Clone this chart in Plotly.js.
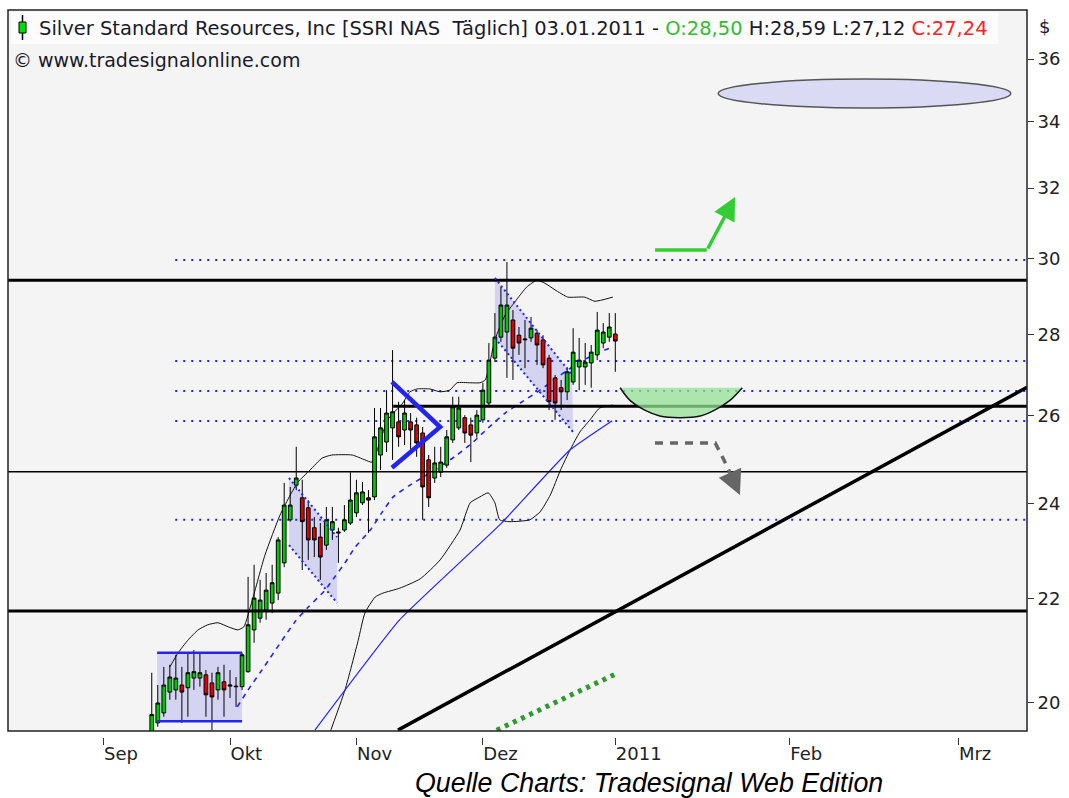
<!DOCTYPE html>
<html><head><meta charset="utf-8">
<script src="https://cdn.plot.ly/plotly-3.0.1.min.js"></script>
<style>html,body{margin:0;padding:0;background:#fff}#chart{width:1069px;height:798px}</style>
</head><body><div id="chart"></div>
<script>
// ---- candles (trading-day index, 0 = 1 Sep 2010) ----
const barIdx = [8,9,10,11,12,13,14,15,16,17,18,19,20,21,22,23,24,25,26,27,28,29,30,31,32,33,34,35,36,37,38,39,40,41,42,43,44,45,46,47,48,49,50,51,52,53,54,55,56,57,58,59,60,61,62,63,64,65,66,67,68,69,70,71,72,73,74,75,76,77,78,79,80,81,82,83,84,85];
const openP  = [19.42,19.64,19.82,20.20,20.24,20.33,20.28,20.46,20.46,20.52,20.37,20.24,20.39,20.31,20.31,20.30,20.58,21.38,21.61,21.77,21.91,22.11,22.73,23.64,24.40,24.12,23.90,23.47,23.27,23.10,23.42,23.38,23.42,23.57,23.79,24.01,24.12,24.14,25.08,25.38,25.71,25.85,25.66,25.85,25.78,25.59,24.97,24.56,24.69,24.85,25.43,25.71,25.95,25.78,25.59,25.90,26.30,27.40,27.93,28.06,28.37,27.98,27.86,27.91,28.03,27.86,27.40,26.91,26.67,26.57,26.81,27.18,27.18,27.28,27.48,27.78,27.93,28.01];
const highP  = [20.56,20.33,20.67,20.71,20.90,20.67,20.94,20.99,20.94,20.61,20.56,20.67,20.71,20.61,20.48,20.94,22.44,22.69,22.38,22.52,22.69,23.27,24.45,24.36,25.27,24.52,24.07,23.70,23.57,23.92,23.92,23.47,23.96,24.69,24.52,24.47,24.29,26.18,26.18,26.61,27.60,26.33,26.37,26.06,25.95,25.73,25.08,25.27,25.27,25.66,26.45,26.45,26.01,25.95,26.13,26.79,27.78,28.55,29.24,29.91,28.63,28.19,28.37,28.45,28.11,27.98,27.48,26.98,26.86,27.18,28.16,27.91,27.78,27.73,28.58,28.29,28.55,28.55];
const lowP   = [19.33,19.57,19.75,20.06,20.06,19.64,19.75,20.24,20.30,19.75,19.51,20.06,19.75,20.09,19.93,20.24,20.56,21.13,21.52,21.58,21.71,21.97,22.64,23.60,24.29,22.58,22.79,22.85,22.38,23.00,23.21,22.73,23.38,23.53,23.70,23.96,23.36,24.07,24.74,25.15,24.97,25.27,25.31,25.20,25.04,23.64,23.92,24.45,24.58,24.79,25.36,25.66,25.36,24.92,25.48,25.83,26.25,27.30,27.81,26.91,26.86,27.48,27.15,27.81,27.23,27.15,26.13,25.90,26.13,26.37,26.74,26.61,26.74,26.67,27.35,27.65,27.81,27.06];
const closeP = [19.79,20.00,20.33,20.48,20.46,20.20,20.56,20.58,20.56,20.15,20.11,20.56,20.24,20.33,20.30,20.90,21.48,22.01,21.97,22.17,22.32,23.21,23.96,23.96,24.56,23.60,23.21,23.21,22.85,23.64,23.60,23.36,23.64,24.07,24.23,24.25,24.07,25.50,25.71,26.06,26.09,25.50,26.06,25.66,25.36,24.36,24.12,24.90,24.92,25.50,26.21,26.18,25.59,25.54,26.01,26.61,27.35,27.93,28.76,28.76,27.65,27.78,27.88,28.16,27.73,27.23,26.33,26.30,26.57,27.06,27.55,27.35,27.30,27.55,28.11,28.06,28.19,27.83];

// ---- indicator curves ----
const upperBandX = [11.0,12.4,14.0,15.7,17.3,19.0,20.7,22.3,23.3,24.7,26.8,29.3,31.0,32.3,34.3,36.3,37.9,41.3,43.4,44.6,47.2,49.7,50.9,52.1,54.2,55.9,57.5,58.7,60.9,62.5,63.4,65.0,66.7,68.3,70.3,72.0,73.3,75.0,77.1,79.9,81.6,84.6];
const upperBandY = [20.67,20.94,21.18,21.38,21.48,21.52,21.44,21.38,21.44,21.97,22.89,23.74,24.18,24.47,24.74,25.01,25.08,25.08,24.97,24.92,25.90,26.30,26.57,26.64,26.64,26.57,26.61,26.79,26.79,26.79,26.86,27.86,28.50,28.84,29.24,29.42,29.34,29.16,28.97,28.97,28.86,28.97];
const lowerBandX = [37.2,40.1,42.3,43.4,45.1,46.4,49.2,52.6,55.9,59.2,60.9,62.5,63.9,65.0,65.8,67.5,70.8,72.5,74.2,75.9,77.5,79.1,80.8,82.4,84.6];
const lowerBandY = [19.35,20.24,21.18,21.71,22.03,22.11,22.21,22.40,22.79,23.42,24.01,24.14,24.23,24.01,23.64,23.60,23.64,23.81,24.18,24.74,25.20,25.61,25.90,26.18,26.25];
const avgX = [22.2,24.0,26.3,31.8,34.0,36.8,38.4,40.1,41.8,44.3,46.2,48.1,50.9,55.0,58.7,61.4,63.9,66.7,69.2,72.5,75.9,79.1,82.4,84.6];
const avgY = [19.93,20.24,20.61,21.54,21.83,22.17,22.44,22.73,23.06,23.42,23.79,24.14,24.40,24.74,25.08,25.38,25.71,26.06,26.30,26.61,26.98,27.30,27.55,27.68];
const blueTrendX = [35.1,49.2,65.8,77.5,84.5];
const blueTrendY = [19.51,21.58,23.53,25.20,25.88];

// ---- drawn tools ----
const blackTrendX = [48.9,153.4], blackTrendY = [19.51,26.68];
const greenDotsX = [65.3,85.5], greenDotsY = [19.51,20.56];
const thickLevels = [29.42, 21.75];
const thinLevels = [24.70];
const partLevel = {from: 48.1, price: 26.22};
const dottedLevels = [29.97, 27.33, 26.59, 25.87, 23.64];
const dottedFrom = 11.9;
const boxX = [8.9, 23.0], boxY = [19.67, 20.94];
const octUpperX = [30.8,38.8], octUpperY = [24.56,23.27];
const octLowerX = [30.8,38.8], octLowerY = [23.10,21.91];
const decUpperX = [65.0,77.8], decUpperY = [29.48,26.98];
const decLowerX = [65.0,78.0], decLowerY = [27.91,25.61];
const wedgeX = [47.9,55.9,47.9], wedgeY = [26.81,25.73,24.79];
const bowlX = [85.8,87.4,89.9,92.4,95.7,99.1,101.5,104.1,106.1];
const bowlY = [26.67,26.37,26.13,25.99,25.95,25.99,26.13,26.37,26.67];
const greenArrowX = [91.6,100.2], greenArrowY = [30.24,30.24], greenTip = [104.9, 31.74];
const greyArrowX = [91.6,101.6,103.7], greyArrowY = [25.36,25.36,24.79], greyTip = [105.7, 24.18];
const ellipseX = [102.1,150.7], ellipseY = [34.43,35.35];

// ---- axes ----
const monthTicks = [0,21,42,63,85,114,142];
const monthLabels = ['Sep','Okt','Nov','Dez','2011','Feb','Mrz'];
const priceTicks = [20,22,24,26,28,30,32,34,36];
const xRange = [-15.88, 153.39];
const yRange = [Math.log10(19.495), Math.log10(37.65)];

const FONT = 'DejaVu Sans, Verdana, sans-serif';
const BLUE = '#2424f0';
const LAV = 'rgba(185,185,240,0.55)';
const px2x = p => (p - 8) / 1019;
const py2y = p => (737 - p) / 727;

const traces = [];
function line(x, y, color, width, dash, top, extra) {
  const t = {type:'scatter', mode:'lines', x:x, y:y, hoverinfo:'skip',
    line:Object.assign({color:color, width:width, dash:dash||'solid'}, extra||{})};
  if (top) { t.xaxis = 'x2'; t.yaxis = 'y2'; }
  traces.push(t);
}
function pathOf(xs, ys) {
  return xs.map((v, k) => (k ? 'L' : 'M') + v + ',' + ys[k]).join(' ') + ' Z';
}
// lower layer (behind candles)
dottedLevels.forEach(v => line([dottedFrom, xRange[1]+2], [v, v], BLUE, 2, '2px,6px'));
line(upperBandX, upperBandY, '#111', 1, 'solid', false, {shape:'spline', smoothing:0.5});
line(lowerBandX, lowerBandY, '#111', 1, 'solid', false, {shape:'spline', smoothing:0.5});
line(blueTrendX, blueTrendY, BLUE, 1.2, 'solid', false, {shape:'spline', smoothing:0.4});
line(avgX, avgY, BLUE, 1.6, '5px,5px', false, {shape:'spline', smoothing:0.5});
// candles on overlay subplot
traces.push({type:'candlestick', xaxis:'x2', yaxis:'y2', x:barIdx, open:openP, high:highP, low:lowP, close:closeP,
  whiskerwidth:0, hoverinfo:'skip',
  increasing:{line:{color:'#000', width:1}, fillcolor:'#00c800'},
  decreasing:{line:{color:'#000', width:1}, fillcolor:'#e00000'}});
// upper layer
thickLevels.forEach(v => line([xRange[0]-2, xRange[1]+2], [v, v], '#000', 3, 'solid', true));
thinLevels.forEach(v => line([xRange[0]-2, xRange[1]+2], [v, v], '#000', 1.5, 'solid', true));
line([partLevel.from, xRange[1]+2], [partLevel.price, partLevel.price], '#000', 3, 'solid', true);
line(boxX, [boxY[0],boxY[0]], BLUE, 2.5, 'solid', true);
line(boxX, [boxY[1],boxY[1]], BLUE, 2.5, 'solid', true);
line(octUpperX, octUpperY, BLUE, 2, '2px,3px', true);
line(octLowerX, octLowerY, BLUE, 2, '2px,3px', true);
line(decUpperX, decUpperY, BLUE, 2, '2px,3px', true);
line(decLowerX, decLowerY, BLUE, 2, '2px,3px', true);
line(wedgeX, wedgeY, BLUE, 4.5, 'solid', true);
line(blackTrendX, blackTrendY, '#000', 3.5, 'solid', true);
line(greenDotsX, greenDotsY, '#2e9a2e', 5, '4px,5px', true);
traces.push({type:'scatter', mode:'lines', xaxis:'x2', yaxis:'y2', x:bowlX, y:bowlY, fill:'toself', fillcolor:'rgba(150,225,150,0.75)',
  line:{color:'#111', width:1.5, shape:'spline', smoothing:0.8}, hoverinfo:'skip'});
line(greenArrowX, greenArrowY, '#33cc33', 3.5, 'solid', true);
line(greyArrowX, greyArrowY, '#666', 3.5, '8px,7px', true);

const layout = {
  width:1069, height:798,
  margin:{l:8, r:42, t:10, b:61, pad:0},
  paper_bgcolor:'#ffffff', plot_bgcolor:'rgba(0,0,0,0)',
  showlegend:false, hovermode:false, boxgap:0.12,
  font:{family:FONT, size:16, color:'#222'},
  xaxis:{range:xRange, anchor:'free', position:0, showgrid:false, zeroline:false, showline:false,
    tickmode:'array', tickvals:monthTicks, ticktext:monthLabels, ticks:'outside', ticklen:7, tickwidth:1,
    tickcolor:'#333', ticklabelposition:'outside right', tickfont:{family:FONT, size:18, color:'#222'},
    rangeslider:{visible:false}, fixedrange:true},
  yaxis:{type:'log', range:yRange, domain:[6/727, 1], side:'right', showgrid:false, zeroline:false, showline:false,
    tickmode:'array', tickvals:priceTicks, ticktext:priceTicks.map(String), ticks:'outside', ticklen:6,
    tickcolor:'#333', tickfont:{family:FONT, size:18, color:'#222'}, fixedrange:true},
  xaxis2:{range:xRange, overlaying:'x', anchor:'y2', visible:false, rangeslider:{visible:false}, fixedrange:true},
  yaxis2:{type:'log', range:yRange, overlaying:'y', anchor:'x2', visible:false, fixedrange:true},
  shapes:[
    {type:'rect', xref:'x domain', yref:'y domain', x0:0, x1:1, y0:0, y1:1, layer:'below', fillcolor:'#f4f4f4', line:{width:0}},
    {type:'rect', xref:'paper', yref:'paper', x0:px2x(11), x1:px2x(998), y0:py2y(44), y1:py2y(12), layer:'below', fillcolor:'#fcfcfc', line:{width:0}},
    {type:'path', xref:'x', yref:'y', layer:'below', fillcolor:LAV, line:{width:0},
     path:pathOf([boxX[0],boxX[1],boxX[1],boxX[0]], [boxY[0],boxY[0],boxY[1],boxY[1]])},
    {type:'path', xref:'x', yref:'y', layer:'below', fillcolor:LAV, line:{width:0},
     path:pathOf([octUpperX[0],octUpperX[1],octLowerX[1],octLowerX[0]], [octUpperY[0],octUpperY[1],octLowerY[1],octLowerY[0]])},
    {type:'path', xref:'x', yref:'y', layer:'below', fillcolor:LAV, line:{width:0},
     path:pathOf([decUpperX[0],decUpperX[1],decLowerX[1],decLowerX[0]], [decUpperY[0],decUpperY[1],decLowerY[1],decLowerY[0]])},
    {type:'circle', xref:'x', yref:'y', x0:ellipseX[0], x1:ellipseX[1], y0:ellipseY[0], y1:ellipseY[1], fillcolor:'#dadaf4', line:{color:'#555', width:1.5}},
    {type:'rect', xref:'x domain', yref:'y domain', x0:0, x1:1, y0:0, y1:1, layer:'above', fillcolor:'rgba(0,0,0,0)', line:{color:'#222', width:1.5}},
    {type:'line', xref:'paper', yref:'paper', x0:px2x(22.5), x1:px2x(22.5), y0:py2y(15), y1:py2y(40), line:{color:'#000', width:1.5}},
    {type:'rect', xref:'paper', yref:'paper', x0:px2x(19), x1:px2x(26), y0:py2y(33), y1:py2y(22), fillcolor:'#00dd00', line:{color:'#000', width:1}}
  ],
  annotations:[
    {xref:'paper', yref:'paper', x:px2x(37), y:py2y(28), xanchor:'left', yanchor:'middle', showarrow:false,
     font:{family:FONT, size:19.5, color:'#1a1a2a'},
     text:'Silver Standard Resources, Inc [SSRI NAS  Täglich] 03.01.2011 - <span style="color:#33bb33">O:28,50</span> H:28,59 L:27,12 <span style="color:#ff2222">C:27,24</span>'},
    {xref:'paper', yref:'paper', x:px2x(11), y:py2y(60), xanchor:'left', yanchor:'middle', showarrow:false,
     font:{family:FONT, size:19, color:'#1a1a2a'}, text:'© www.tradesignalonline.com'},
    {xref:'paper', yref:'paper', x:px2x(1037), y:py2y(27), xanchor:'left', yanchor:'middle', showarrow:false,
     font:{family:FONT, size:18, color:'#1a1a2a'}, text:'$'},
    {xref:'paper', yref:'paper', x:px2x(649), y:py2y(783), xanchor:'center', yanchor:'middle', showarrow:false,
     font:{family:'Liberation Sans, Arial, sans-serif', size:26.8, color:'#000'}, text:'<i>Quelle Charts: Tradesignal Web Edition</i>'},
    {xref:'x', yref:'y', x:greenTip[0], y:Math.log10(greenTip[1]), ax:-28, ay:53, text:'', showarrow:true,
     arrowhead:2, arrowsize:1.3, arrowwidth:3.5, arrowcolor:'#33cc33'},
    {xref:'x', yref:'y', x:greyTip[0], y:Math.log10(greyTip[1]), ax:-12, ay:-27, text:'', showarrow:true,
     arrowhead:2, arrowsize:1.4, arrowwidth:3.5, arrowcolor:'#666'}
  ]
};
Plotly.newPlot('chart', traces, layout, {staticPlot:true, displayModeBar:false});
</script></body></html>
